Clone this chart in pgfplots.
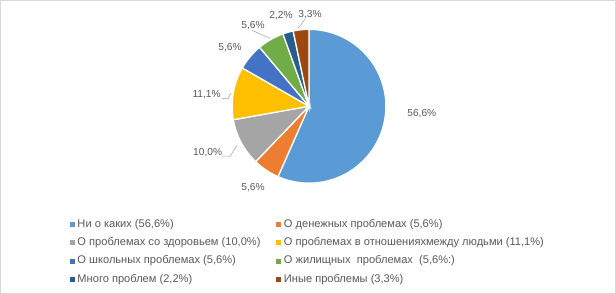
\documentclass[border=0pt]{standalone}
\usepackage{pgfplots}
\pgfplotsset{compat=1.18}
\usepackage{fontspec}
\setmainfont{Liberation Sans}
\definecolor{c1}{HTML}{5B9BD5}
\definecolor{c2}{HTML}{ED7D31}
\definecolor{c3}{HTML}{A5A5A5}
\definecolor{c4}{HTML}{FFC000}
\definecolor{c5}{HTML}{4472C4}
\definecolor{c6}{HTML}{70AD47}
\definecolor{c7}{HTML}{255E91}
\definecolor{c8}{HTML}{9E480E}
\definecolor{lbl}{HTML}{595959}
\definecolor{frame}{HTML}{D9D9D9}
% slice values (%)
\def\vA{56.6}\def\vB{5.6}\def\vC{10.0}\def\vD{11.1}
\def\vE{5.6}\def\vF{5.6}\def\vG{2.2}\def\vH{3.3}
\pgfmathsetmacro\sA{90}
\pgfmathsetmacro\sB{\sA-3.6*\vA}
\pgfmathsetmacro\sC{\sB-3.6*\vB}
\pgfmathsetmacro\sD{\sC-3.6*\vC}
\pgfmathsetmacro\sE{\sD-3.6*\vD}
\pgfmathsetmacro\sF{\sE-3.6*\vE}
\pgfmathsetmacro\sG{\sF-3.6*\vF}
\pgfmathsetmacro\sH{\sG-3.6*\vG}
\pgfmathsetmacro\sI{\sH-3.6*\vH}
\def\cx{309}\def\cy{187}\def\rr{77}
\begin{document}
\begin{tikzpicture}
\begin{axis}[
  x=1bp, y=1bp, xmin=0, xmax=616, ymin=0, ymax=293,
  scale only axis, hide axis, clip=false,
  legend columns=2, legend cell align=left,
  legend style={at={(axis cs:69,75)}, anchor=north west, draw=none, fill=none,
    font=\fontsize{11.1bp}{13bp}\selectfont, text=lbl, inner sep=0pt,
    row sep=5.8bp,
    /tikz/every odd column/.append style={column sep=2bp},
    /tikz/every even column/.append style={column sep=14.5bp},
    nodes={inner sep=1bp, text height=8bp, text depth=2.5bp}},
  legend image code/.code={\fill[#1, draw=none] (0bp,-2.5bp) rectangle (5bp,2.5bp);},
  every axis plot/.append style={draw=white, line width=1.3pt, samples=60},
]
\addplot[fill=c1, domain=\sB:\sA, variable=\t] ({\cx+\rr*cos(\t)},{\cy+\rr*sin(\t)}) -- (axis cs:\cx,\cy) -- cycle;
\addlegendentry{Ни о каких (56,6\%)}
\addplot[fill=c2, domain=\sC:\sB, variable=\t] ({\cx+\rr*cos(\t)},{\cy+\rr*sin(\t)}) -- (axis cs:\cx,\cy) -- cycle;
\addlegendentry{О денежных проблемах (5,6\%)}
\addplot[fill=c3, domain=\sD:\sC, variable=\t] ({\cx+\rr*cos(\t)},{\cy+\rr*sin(\t)}) -- (axis cs:\cx,\cy) -- cycle;
\addlegendentry{О проблемах со здоровьем (10,0\%)}
\addplot[fill=c4, domain=\sE:\sD, variable=\t] ({\cx+\rr*cos(\t)},{\cy+\rr*sin(\t)}) -- (axis cs:\cx,\cy) -- cycle;
\addlegendentry{О проблемах в отношенияхмежду людьми (11,1\%)}
\addplot[fill=c5, domain=\sF:\sE, variable=\t] ({\cx+\rr*cos(\t)},{\cy+\rr*sin(\t)}) -- (axis cs:\cx,\cy) -- cycle;
\addlegendentry{О школьных проблемах (5,6\%)}
\addplot[fill=c6, domain=\sG:\sF, variable=\t] ({\cx+\rr*cos(\t)},{\cy+\rr*sin(\t)}) -- (axis cs:\cx,\cy) -- cycle;
\addlegendentry{О жилищных\ \ проблемах\ \ (5,6\%:)}
\addplot[fill=c7, domain=\sH:\sG, variable=\t] ({\cx+\rr*cos(\t)},{\cy+\rr*sin(\t)}) -- (axis cs:\cx,\cy) -- cycle;
\addlegendentry{Много проблем (2,2\%)}
\addplot[fill=c8, domain=\sI:\sH, variable=\t] ({\cx+\rr*cos(\t)},{\cy+\rr*sin(\t)}) -- (axis cs:\cx,\cy) -- cycle;
\addlegendentry{Иные проблемы (3,3\%)}
% data labels
\begin{scope}[every node/.style={font=\fontsize{10.2bp}{12bp}\selectfont, text=lbl, inner sep=0pt}]
\node at (axis cs:422,180) {56,6\%};
\node at (axis cs:253,106) {5,6\%};
\node at (axis cs:207.5,141) {10,0\%};
\node at (axis cs:206.5,199) {11,1\%};
\node at (axis cs:230,246) {5,6\%};
\node at (axis cs:253,268) {5,6\%};
\node at (axis cs:281,278) {2,2\%};
\node at (axis cs:310,279) {3,3\%};
\end{scope}
\draw[lbl!60, line width=0.5pt] (axis cs:222,137) -- (axis cs:230,137) -- (axis cs:237,148);
\draw[lbl!60, line width=0.5pt] (axis cs:222,195) -- (axis cs:228,195) -- (axis cs:231,200);
\draw[lbl!60, line width=0.5pt] (axis cs:252,263) -- (axis cs:270,255);
\draw[lbl!60, line width=0.5pt] (axis cs:305,274) -- (axis cs:298,265);
\draw[frame, line width=0.8pt] (rel axis cs:0,0) rectangle (rel axis cs:1,1);
\end{axis}
\end{tikzpicture}
\end{document}
